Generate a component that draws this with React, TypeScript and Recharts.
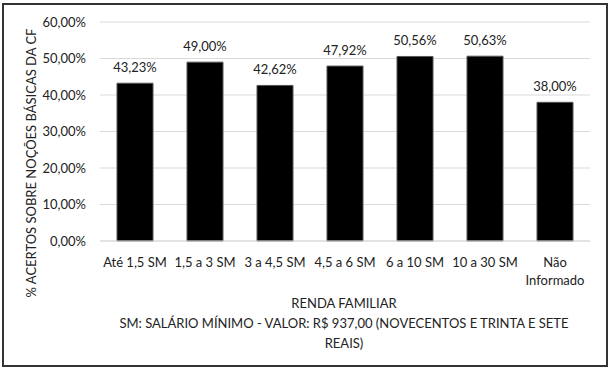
import { BarChart, Bar, XAxis, YAxis, CartesianGrid, LabelList } from 'recharts';

const categories = ['Até 1,5 SM', '1,5 a 3 SM', '3 a 4,5 SM', '4,5 a 6 SM', '6 a 10 SM', '10 a 30 SM', 'Não\nInformado'];
const acertos = [43.23, 49.0, 42.62, 47.92, 50.56, 50.63, 38.0];
const yTicks = [0, 10, 20, 30, 40, 50, 60];

const FONT = 'Lato, "Open Sans", sans-serif';
const TEXT = '#222222';

const pct = (v: number) => `${v.toFixed(2).replace('.', ',')}%`;

const chartData = categories.map((c, i) => ({ name: c, value: acertos[i] }));

function CategoryTick(props: any) {
  const { x, y, payload } = props;
  const lines = String(payload.value).split('\n');
  return (
    <text x={x} y={y} textAnchor="middle" fill={TEXT} fontSize={13} fontFamily={FONT}>
      {lines.map((l, i) => (
        <tspan key={i} x={x} dy={18}>
          {l}
        </tspan>
      ))}
    </text>
  );
}

function XTitle(props: any) {
  const { viewBox } = props;
  const cx = 344;
  const top = viewBox.y;
  return (
    <text textAnchor="middle" fill={TEXT} fontSize={13} fontFamily={FONT}>
      <tspan x={cx} y={top + 67}>RENDA FAMILIAR</tspan>
      <tspan x={cx} y={top + 87}>SM: SALÁRIO MÍNIMO - VALOR: R$ 937,00 (NOVECENTOS E TRINTA E SETE</tspan>
      <tspan x={cx} y={top + 107}>REAIS)</tspan>
    </text>
  );
}

function YTitle() {
  const cy = 163;
  const cx = 36;
  return (
    <text
      x={cx}
      y={cy}
      transform={`rotate(-90, ${cx}, ${cy})`}
      textAnchor="middle"
      fill={TEXT}
      fontSize={13}
      fontFamily={FONT}
    >
      % ACERTOS SOBRE NOÇÕES BÁSICAS DA CF
    </text>
  );
}

export default function App() {
  return (
    <div style={{ position: 'fixed', left: 0, top: 0, width: 613, height: 372, background: '#fff' }}>
      <div
        style={{
          position: 'absolute',
          left: 2,
          top: 3,
          width: 602,
          height: 360,
          border: '2px solid #333',
        }}
      />
      <div style={{ position: 'absolute', left: 0, top: 0 }}>
        <BarChart
          width={613}
          height={372}
          data={chartData}
          margin={{ top: 22, right: 23, left: 0, bottom: 0 }}
          barSize={36}
        >
          <CartesianGrid vertical={false} stroke="#d9d9d9" />
          <XAxis
            dataKey="name"
            height={131}
            interval={0}
            tickLine={false}
            axisLine={{ stroke: '#d9d9d9' }}
            tick={<CategoryTick />}
            label={{ content: <XTitle /> }}
          />
          <YAxis
            width={100}
            domain={[0, 60]}
            ticks={yTicks}
            tickFormatter={pct}
            tickLine={false}
            axisLine={false}
            tickSize={0}
            tickMargin={14}
            tick={{ fill: TEXT, fontSize: 13, fontFamily: FONT }}
            label={{ content: <YTitle /> }}
          />
          <Bar dataKey="value" fill="#000" stroke="#555" isAnimationActive={false}>
            <LabelList
              dataKey="value"
              position="top"
              offset={11}
              formatter={(v: any) => pct(Number(v))}
              fill={TEXT}
              fontSize={13}
              fontFamily={FONT}
            />
          </Bar>
        </BarChart>
      </div>
    </div>
  );
}
